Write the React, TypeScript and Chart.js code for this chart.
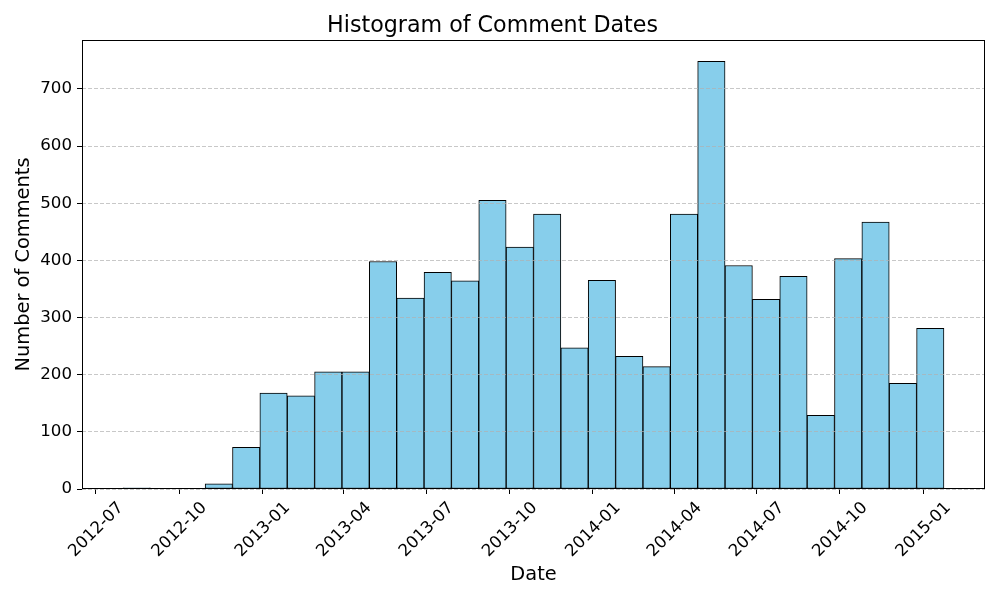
import { useEffect, useRef } from 'react';
import { Chart, registerables } from 'chart.js';

Chart.register(...registerables);

const TITLE = 'Histogram of Comment Dates';
const X_LABEL = 'Date';
const Y_LABEL = 'Number of Comments';

// Histogram bins (30 equal-width bins)
const FIRST_BIN_START = '2012-07-31';
const BIN_WIDTH_DAYS = 30.23;
const COUNTS = [
  2, 0, 0, 9, 73, 168, 163, 205, 205, 398,
  334, 379, 364, 505, 423, 481, 247, 365, 232, 214,
  481, 748, 391, 332, 372, 129, 403, 467, 185, 281,
];

const X_TICK_LABELS = [
  '2012-07', '2012-10', '2013-01', '2013-04', '2013-07', '2013-10',
  '2014-01', '2014-04', '2014-07', '2014-10', '2015-01',
];
const Y_TICKS = [0, 100, 200, 300, 400, 500, 600, 700];

const DAY_MS = 86400000;
const toDays = (s: string) => Date.parse(s.length === 7 ? s + '-01T00:00:00Z' : s + 'T00:00:00Z') / DAY_MS;

const FONT = "'DejaVu Sans', sans-serif";

const framePlugin = {
  id: 'frame',
  afterDraw(chart: any) {
    const { ctx, chartArea } = chart;
    ctx.save();
    ctx.strokeStyle = '#000';
    ctx.lineWidth = 1;
    ctx.strokeRect(
      Math.round(chartArea.left) + 0.5,
      Math.round(chartArea.top) + 0.5,
      Math.round(chartArea.right - chartArea.left) - 1,
      Math.round(chartArea.bottom - chartArea.top) - 1,
    );
    ctx.restore();
  },
};

export default function App() {
  const ref = useRef<HTMLCanvasElement | null>(null);

  useEffect(() => {
    if (!ref.current) return;
    const start = toDays(FIRST_BIN_START);
    const n = COUNTS.length;
    const end = start + n * BIN_WIDTH_DAYS;
    const span = end - start;
    const data = COUNTS.map((c, i) => ({ x: start + (i + 0.5) * BIN_WIDTH_DAYS, y: c }));
    const tickVals = X_TICK_LABELS.map(toDays);
    const yMax = Math.max(...COUNTS) * 1.05;

    const chart = new Chart(ref.current, {
      type: 'bar',
      data: {
        datasets: [
          {
            data,
            backgroundColor: '#87CEEB',
            borderColor: '#000000',
            borderWidth: 1,
            borderSkipped: false,
            categoryPercentage: 1,
            barPercentage: 1,
          } as any,
        ],
      },
      plugins: [framePlugin],
      options: {
        responsive: false,
        animation: false,
        layout: { padding: { left: 0, right: 15, top: 0, bottom: 0 } },
        plugins: {
          legend: { display: false },
          tooltip: { enabled: false },
          title: {
            display: true,
            text: TITLE,
            color: '#000',
            font: { family: FONT, size: 22.2, weight: 'normal' },
            padding: { top: 12.5, bottom: 0.9 },
          },
        },
        scales: {
          x: {
            type: 'linear',
            offset: false,
            min: start - 0.05 * span,
            max: end + 0.05 * span,
            afterBuildTicks: (axis: any) => {
              axis.ticks = tickVals.map((v) => ({ value: v }));
            },
            afterFit: (axis: any) => {
              axis.height = 111;
            },
            ticks: {
              autoSkip: false,
              minRotation: 45,
              maxRotation: 45,
              labelOffset: 25,
              padding: 4,
              color: '#000',
              font: { family: FONT, size: 16.67 },
              callback: (value: any) => {
                const idx = tickVals.findIndex((t) => Math.abs(t - value) < 0.01);
                return idx >= 0 ? X_TICK_LABELS[idx] : '';
              },
            },
            grid: {
              display: true,
              offset: false,
              drawOnChartArea: false,
              drawTicks: true,
              tickLength: 5,
              tickColor: '#000',
              tickWidth: 1,
            },
            border: { display: false },
            title: {
              display: true,
              text: X_LABEL,
              color: '#000',
              font: { family: FONT, size: 19.4 },
              padding: { top: 0, bottom: 13.4 },
            },
          },
          y: {
            type: 'linear',
            min: 0,
            max: yMax,
            afterBuildTicks: (axis: any) => {
              axis.ticks = Y_TICKS.map((v) => ({ value: v }));
            },
            afterFit: (axis: any) => {
              axis.width = 82;
            },
            ticks: {
              color: '#000',
              padding: 5,
              font: { family: FONT, size: 16.67 },
            },
            grid: {
              display: true,
              drawOnChartArea: true,
              drawTicks: true,
              tickLength: 5,
              tickColor: '#000',
              tickWidth: 1,
              color: 'rgba(176,176,176,0.7)',
              lineWidth: 1,
              borderDash: [4, 2],
              tickBorderDash: [],
              z: 1,
            } as any,
            border: { display: false, dash: [4, 2] } as any,
            title: {
              display: true,
              text: Y_LABEL,
              color: '#000',
              font: { family: FONT, size: 19.4 },
              padding: { top: 12, bottom: 0 },
            },
          },
        },
      } as any,
    });
    return () => chart.destroy();
  }, []);

  return (
    <div style={{ position: 'absolute', left: 0, top: 0, width: 1000, height: 600, background: '#fff' }}>
      <canvas ref={ref} width={1000} height={600} style={{ width: 1000, height: 600, display: 'block' }} />
    </div>
  );
}
